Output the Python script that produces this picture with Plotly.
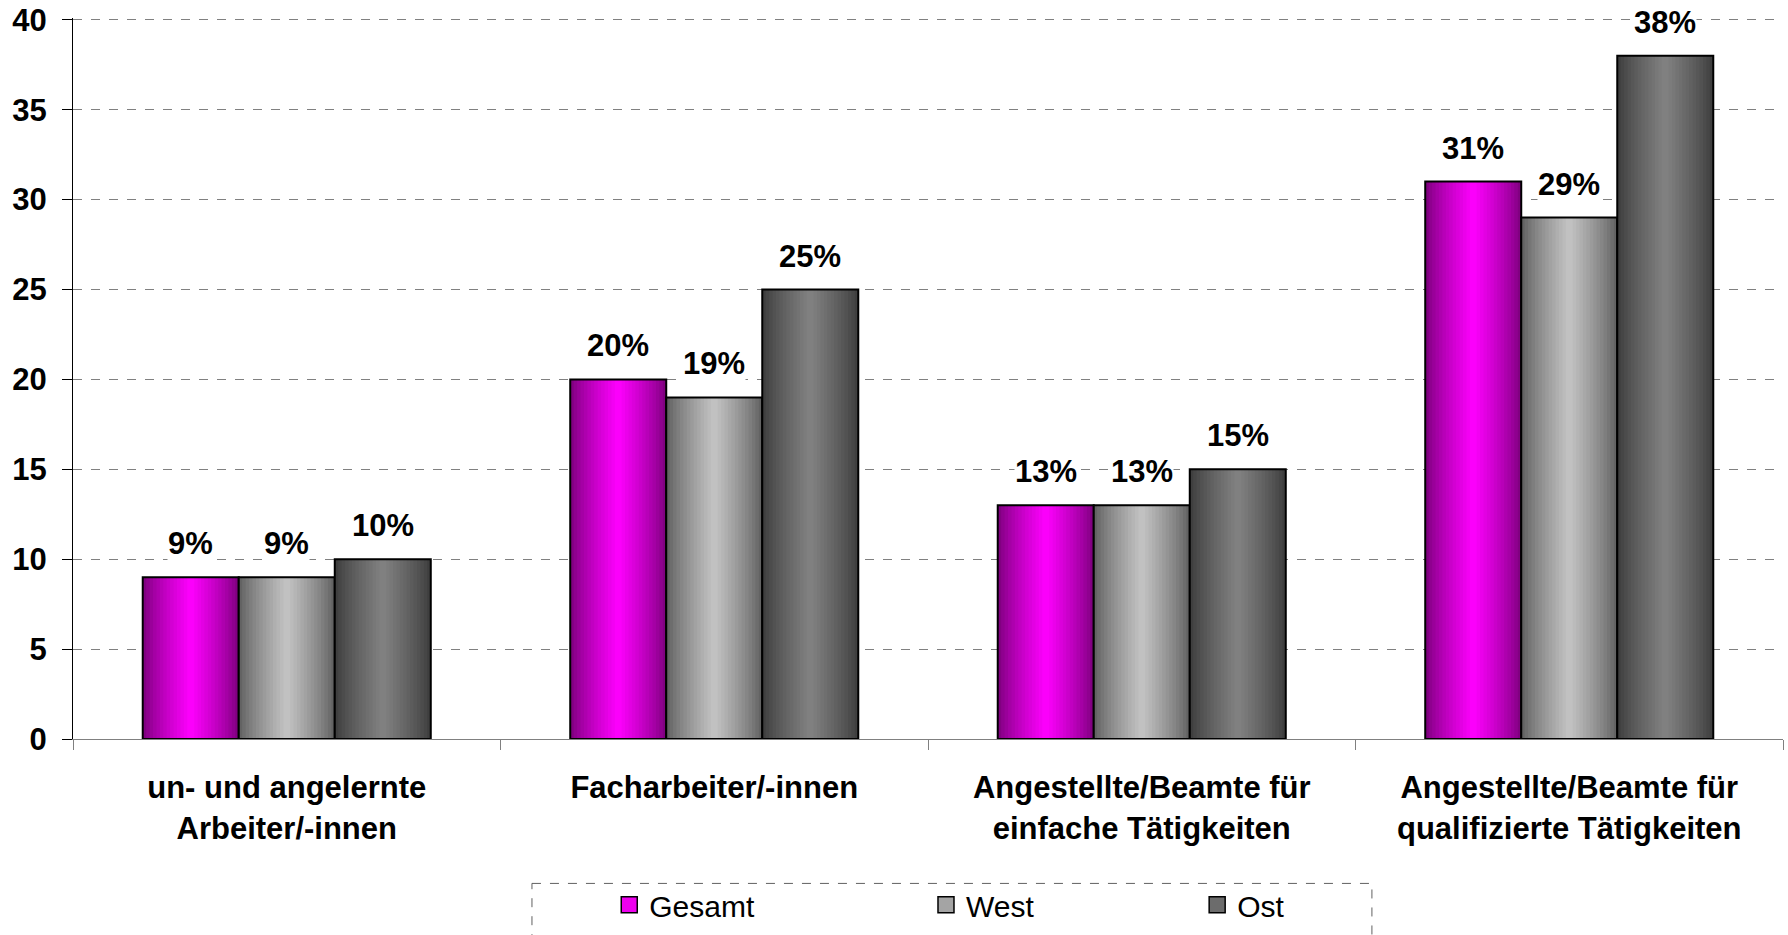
import plotly.graph_objects as go

categories = ["un- und angelernte<br>Arbeiter/-innen", "Facharbeiter/-innen",
              "Angestellte/Beamte für<br>einfache Tätigkeiten",
              "Angestellte/Beamte für<br>qualifizierte Tätigkeiten"]
series_names = ["Gesamt", "West", "Ost"]
gesamt = [9, 20, 13, 31]
west = [9, 19, 13, 29]
ost = [10, 25, 15, 38]
values = [gesamt, west, ost]

# gradient colours (edge, centre) for each series
edge_cols = [(0x78, 0x00, 0x78), (0x5c, 0x5c, 0x5c), (0x3a, 0x3a, 0x3a)]
centre_cols = [(0xff, 0x00, 0xff), (0xc4, 0xc4, 0xc4), (0x82, 0x82, 0x82)]
legend_cols = ["#ee00ee", "#a4a4a4", "#6c6c6c"]
legend_pad = [20, 19, 0]  # trailing spacing after legend labels

FONT = "Liberation Sans, Arial, sans-serif"
bar_w = 0.2246
group_offsets = [-1.5 * bar_w, -0.5 * bar_w, 0.5 * bar_w]
n_slices = 28

fig = go.Figure()
for s, vals in enumerate(values):
    e, c = edge_cols[s], centre_cols[s]
    sw = bar_w / n_slices
    for k in range(n_slices):
        t = (k + 0.5) / n_slices
        f = (1 - abs(2 * t - 1)) ** 0.8
        col = "rgb({},{},{})".format(*[round(e[j] + (c[j] - e[j]) * f) for j in range(3)])
        fig.add_trace(go.Bar(
            x=categories, y=vals, offset=group_offsets[s] + k * sw,
            width=sw * 1.6 if k < n_slices - 1 else sw,
            marker=dict(color=col, line=dict(width=0)),
            showlegend=False, hoverinfo="skip"))
    # outline
    fig.add_trace(go.Bar(
        x=categories, y=vals, offset=group_offsets[s], width=bar_w,
        marker=dict(color="rgba(0,0,0,0)", line=dict(color="black", width=2)),
        showlegend=False, name=series_names[s]))

for s, name in enumerate(series_names):
    fig.add_trace(go.Scatter(
        x=[None], y=[None], mode="markers", name=name + "\u00a0" * legend_pad[s],
        marker=dict(symbol="square", size=16, color=legend_cols[s],
                    line=dict(color="black", width=1.5)),
        showlegend=True))

annotations = []
for s, vals in enumerate(values):
    for i, v in enumerate(vals):
        annotations.append(dict(
            x=i + group_offsets[s] + bar_w / 2, y=v, xref="x", yref="y",
            text=f"{v}%", showarrow=False, yanchor="bottom", yshift=15,
            bgcolor="white", borderpad=0,
            font=dict(family=FONT, size=31, color="black", weight="bold")))

fig.update_layout(
    width=1788, height=935,
    barmode="overlay",
    plot_bgcolor="white", paper_bgcolor="white",
    margin=dict(l=73, r=5, t=18, b=196, autoexpand=False),
    font=dict(family=FONT, color="black"),
    annotations=annotations,
    legend=dict(orientation="h", x=0.3136, xanchor="left", y=-0.230, yanchor="middle",
                font=dict(family=FONT, size=30, color="black"),
                bgcolor="rgba(0,0,0,0)", borderwidth=0, traceorder="normal"),
    shapes=[dict(type="rect", xref="paper", yref="paper",
                 x0=0.2684, x1=0.7596, y0=-0.2003, y1=-0.35,
                 line=dict(color="#606060", width=1, dash="dash"), layer="below")],
)
fig.update_xaxes(
    type="category", categoryorder="array", categoryarray=categories,
    range=[-0.5, 3.5], automargin=False,
    showline=True, linecolor="#808080", linewidth=1,
    ticks="outside", tickson="boundaries", ticklen=10, tickcolor="#808080",
    ticklabelstandoff=21,
    tickfont=dict(family=FONT, size=31, color="black", weight="bold"),
    showgrid=False)
fig.update_yaxes(
    range=[0, 40.1], dtick=5, tick0=0, automargin=False, ticklabeloverflow="allow",
    showline=True, linecolor="black", linewidth=1,
    ticks="outside", ticklen=10, tickcolor="black", ticklabelstandoff=9,
    tickfont=dict(family=FONT, size=31, color="black", weight="bold"),
    showgrid=True, gridcolor="#808080", gridwidth=1, griddash="dash",
    zeroline=False)

fig.write_html("out.html", config={"displayModeBar": False},
               post_script="document.body.style.margin='0px';")
